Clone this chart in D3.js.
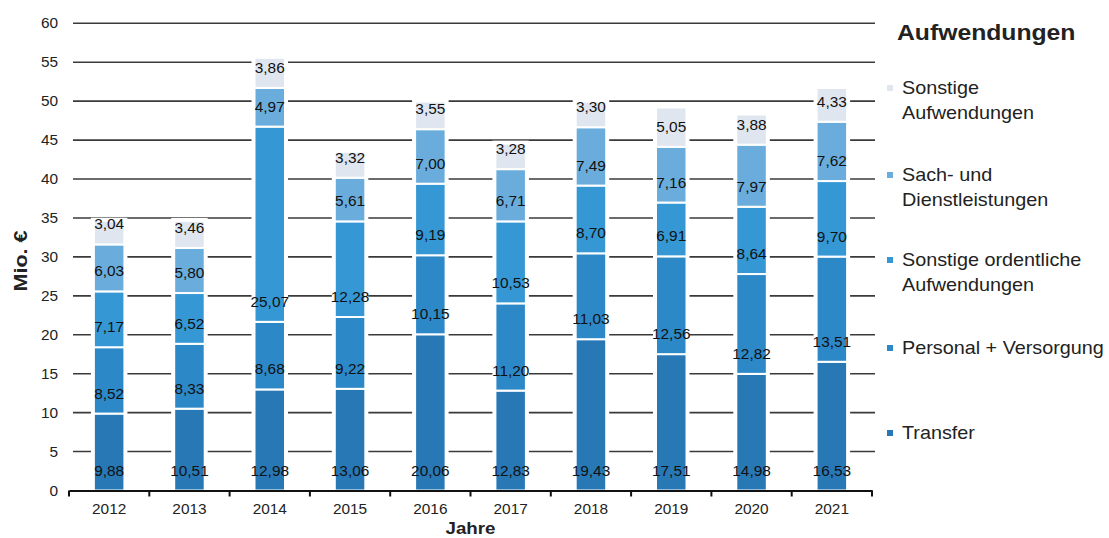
<!DOCTYPE html>
<html>
<head>
<meta charset="utf-8">
<script src="https://cdn.jsdelivr.net/npm/d3@7"></script>
<style>
  html, body { margin: 0; padding: 0; background: #fff; }
  svg { display: block; font-family: "Liberation Sans", Arial, sans-serif; }
</style>
</head>
<body>
<svg id="chart" width="1109" height="538"></svg>
<script>
// Aufwendungen je Jahr in Mio. €
const years = ["2012", "2013", "2014", "2015", "2016", "2017", "2018", "2019", "2020", "2021"];
const seriesKeys = ["transfer", "personal", "sonstOrd", "sach", "sonstAufw"];
const seriesLabels = [
  ["Transfer"],
  ["Personal + Versorgung"],
  ["Sonstige ordentliche", "Aufwendungen"],
  ["Sach- und", "Dienstleistungen"],
  ["Sonstige", "Aufwendungen"]
];
const transfer  = [9.88, 10.51, 12.98, 13.06, 20.06, 12.83, 19.43, 17.51, 14.98, 16.53];
const personal  = [8.52, 8.33, 8.68, 9.22, 10.15, 11.20, 11.03, 12.56, 12.82, 13.51];
const sonstOrd  = [7.17, 6.52, 25.07, 12.28, 9.19, 10.53, 8.70, 6.91, 8.64, 9.70];
const sach      = [6.03, 5.80, 4.97, 5.61, 7.00, 6.71, 7.49, 7.16, 7.97, 7.62];
const sonstAufw = [3.04, 3.46, 3.86, 3.32, 3.55, 3.28, 3.30, 5.05, 3.88, 4.33];
const yTicks = [0, 5, 10, 15, 20, 25, 30, 35, 40, 45, 50, 55, 60];

const colors = ["#2878b6", "#2d88c8", "#3598d4", "#6aaddc", "#e0e6ef"];

const rows = years.map((y, i) => ({
  year: y,
  transfer: transfer[i], personal: personal[i], sonstOrd: sonstOrd[i],
  sach: sach[i], sonstAufw: sonstAufw[i]
}));

const svg = d3.select("#chart");
const m = { left: 69, right: 872, top: 23.3, bottom: 490.5 };

const x = d3.scaleBand().domain(years).range([m.left, m.right]).paddingInner(0.62).paddingOuter(0.31);
const y = d3.scaleLinear().domain([0, 60]).range([m.bottom, m.top]);
const fmt = v => d3.format(".2f")(v).replace(".", ",");

// text helper: slightly widened glyphs
function label(parent, px, py, str, o) {
  const sx = o.sx || 1.1;
  const rot = o.rotate ? " rotate(-90)" : "";
  return parent.append("text")
    .attr("transform", `translate(${px},${py})${rot} scale(${sx},1)`)
    .attr("dy", "0.36em")
    .attr("text-anchor", o.anchor || "start")
    .attr("font-size", o.size)
    .attr("font-weight", o.bold ? "bold" : "normal")
    .attr("fill", o.fill || "#222")
    .text(str);
}

// horizontal gridlines
svg.append("g").selectAll("line")
  .data(yTicks.filter(t => t > 0))
  .join("line")
  .attr("x1", m.left + 4).attr("x2", m.right + 3)
  .attr("y1", d => y(d)).attr("y2", d => y(d))
  .attr("stroke", "#3a3a3a").attr("stroke-width", 1.6);

// y tick labels
const gyl = svg.append("g");
yTicks.forEach(t => label(gyl, 58, y(t), String(t), { size: 14, anchor: "end" }));

const stack = d3.stack().keys(seriesKeys)(rows);

// white backing to break the gridlines around each bar
svg.append("g").selectAll("rect")
  .data(rows)
  .join("rect")
  .attr("x", d => x(d.year) - 3)
  .attr("width", x.bandwidth() + 6)
  .attr("y", d => y(d3.sum(seriesKeys, k => d[k])) - 3)
  .attr("height", d => m.bottom - y(d3.sum(seriesKeys, k => d[k])) + 3)
  .attr("fill", "#fff");

// stacked segments
const layers = svg.append("g").selectAll("g")
  .data(stack)
  .join("g")
  .attr("fill", (d, i) => colors[i]);

layers.selectAll("rect")
  .data(d => d)
  .join("rect")
  .attr("x", d => x(d.data.year))
  .attr("width", x.bandwidth())
  .attr("y", d => y(d[1]))
  .attr("height", d => y(d[0]) - y(d[1]))
  .attr("stroke", "#fff").attr("stroke-width", 2);

// value labels, placed just inside the base of each segment
const labelG = svg.append("g");
stack.forEach(layer => {
  layer.forEach(d => {
    label(labelG, x(d.data.year) + x.bandwidth() / 2, y(d[0]) - 20, fmt(d[1] - d[0]),
      { size: 14, anchor: "middle", fill: "#111" });
  });
});

// x axis
const xAxis = d3.axisBottom(x).tickSize(0).tickFormat("");
const gx = svg.append("g").attr("transform", `translate(0,${m.bottom})`).call(xAxis);
gx.select(".domain").attr("stroke", "#111").attr("stroke-width", 2);
years.forEach(yr => label(gx, x(yr) + x.bandwidth() / 2, 18, yr, { size: 14, anchor: "middle" }));
// category separators on the axis
const bounds = years.map(yr => x(yr) - x.step() * x.paddingInner() / 2).concat([m.right]);
bounds[0] = m.left;
gx.append("g").selectAll("line")
  .data(bounds)
  .join("line")
  .attr("x1", d => d).attr("x2", d => d)
  .attr("y1", 0).attr("y2", 6)
  .attr("stroke", "#111").attr("stroke-width", 2);

// axis titles
label(svg, (m.left + m.right) / 2, 528, "Jahre", { size: 17, bold: true, anchor: "middle" });
label(svg, 21, 261, "Mio. €", { size: 18, bold: true, anchor: "middle", rotate: true, sx: 1.2 });

// legend
const legend = svg.append("g");
label(legend, 897, 32, "Aufwendungen", { size: 21.5, bold: true, sx: 1.15 });

const legendY = [88, 175, 260, 348, 433];
const order = [4, 3, 2, 1, 0];
order.forEach((si, j) => {
  const gy = legendY[j];
  legend.append("rect")
    .attr("x", 887).attr("y", gy - 3).attr("width", 6).attr("height", 6)
    .attr("fill", colors[si]);
  seriesLabels[si].forEach((line, li) => {
    label(legend, 902, gy + li * 24.5, line, { size: 18, sx: 1.1 });
  });
});
</script>
</body>
</html>
